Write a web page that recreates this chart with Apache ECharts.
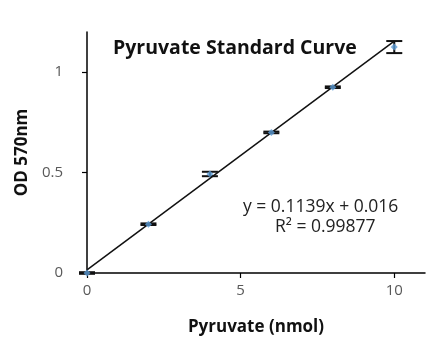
<!DOCTYPE html>
<html><head><meta charset="utf-8">
<script src="https://cdn.jsdelivr.net/npm/echarts@6/dist/echarts.min.js"></script>
<style>html,body{margin:0;padding:0;background:#fff}#c{width:445px;height:357px}</style>
</head><body><div id="c"></div>
<script>
const xValues = [0, 2, 4, 6, 8, 10];
const odValues = [0.0, 0.243, 0.493, 0.70, 0.925, 1.125];
const odErrors = [0.004, 0.004, 0.011, 0.004, 0.004, 0.03];
const trendSlope = 0.1139;
const trendIntercept = 0.016;
const xTicks = [0, 5, 10];
const yTicks = [0, 0.5, 1];
const titleText = 'Pyruvate Standard Curve';
const eqText = 'y = 0.1139x + 0.016';
const r2Text = 'R² = 0.99877';

const font = '"Open Sans", sans-serif';
const chart = echarts.init(document.getElementById('c'));
const points = xValues.map((x, i) => [x, odValues[i]]);
const errs = xValues.map((x, i) => [x, odValues[i] - odErrors[i], odValues[i] + odErrors[i]]);
const trend = [[0, trendIntercept], [10, trendSlope * 10 + trendIntercept]];

chart.setOption({
  animation: false,
  title: {text: titleText, left: 108, top: 33,
    textStyle: {fontFamily: font, fontWeight: 'bold', fontSize: 19.5, color: '#111'}},
  grid: {left: 87, right: 20, top: 32, bottom: 84},
  xAxis: {type: 'value', min: 0, max: 11,
    name: 'Pyruvate (nmol)', nameLocation: 'middle', nameGap: 46,
    nameTextStyle: {fontFamily: font, fontWeight: 'bold', fontSize: 17, color: '#111'},
    axisLine: {lineStyle: {color: '#000', width: 1.5}},
    axisTick: {show: true, length: 5, lineStyle: {color: '#000', width: 1.2}, customValues: xTicks},
    axisLabel: {customValues: xTicks, margin: 10, fontFamily: font, fontSize: 15, color: '#595959'},
    splitLine: {show: false}},
  yAxis: {type: 'value', min: 0, max: 1.2,
    name: 'OD 570nm', nameLocation: 'middle', nameGap: 50,
    nameTextStyle: {fontFamily: font, fontWeight: 'bold', fontSize: 17, color: '#111'},
    axisLine: {show: true, lineStyle: {color: '#000', width: 1.5}},
    axisTick: {show: true, length: 5, lineStyle: {color: '#000', width: 1.2}, customValues: yTicks},
    axisLabel: {customValues: yTicks, margin: 24, fontFamily: font, fontSize: 15, color: '#595959'},
    splitLine: {show: false}},
  graphic: [
    {type: 'text', left: 243, top: 198, style: {text: eqText, font: '17.5px ' + font, fill: '#222'}},
    {type: 'text', left: 275, top: 218, style: {text: r2Text, font: '17.5px ' + font, fill: '#222'}}
  ],
  series: [
    {type: 'line', data: trend, symbol: 'none', lineStyle: {color: '#111', width: 1.5}, z: 3},
    {type: 'custom', data: errs, z: 4,
      renderItem: function (params, api) {
        const x = api.value(0);
        const lo = api.coord([x, api.value(1)]);
        const hi = api.coord([x, api.value(2)]);
        const hw = 8;
        const st = {stroke: '#111', lineWidth: 2};
        return {type: 'group', children: [
          {type: 'line', shape: {x1: lo[0], y1: lo[1], x2: hi[0], y2: hi[1]}, style: st},
          {type: 'line', shape: {x1: lo[0] - hw, y1: lo[1], x2: lo[0] + hw, y2: lo[1]}, style: st},
          {type: 'line', shape: {x1: hi[0] - hw, y1: hi[1], x2: hi[0] + hw, y2: hi[1]}, style: st}
        ]};
      }},
    {type: 'scatter', data: points, symbol: 'diamond', symbolSize: 7, z: 5,
      itemStyle: {color: '#5b9bd5'}}
  ]
});
</script></body></html>
